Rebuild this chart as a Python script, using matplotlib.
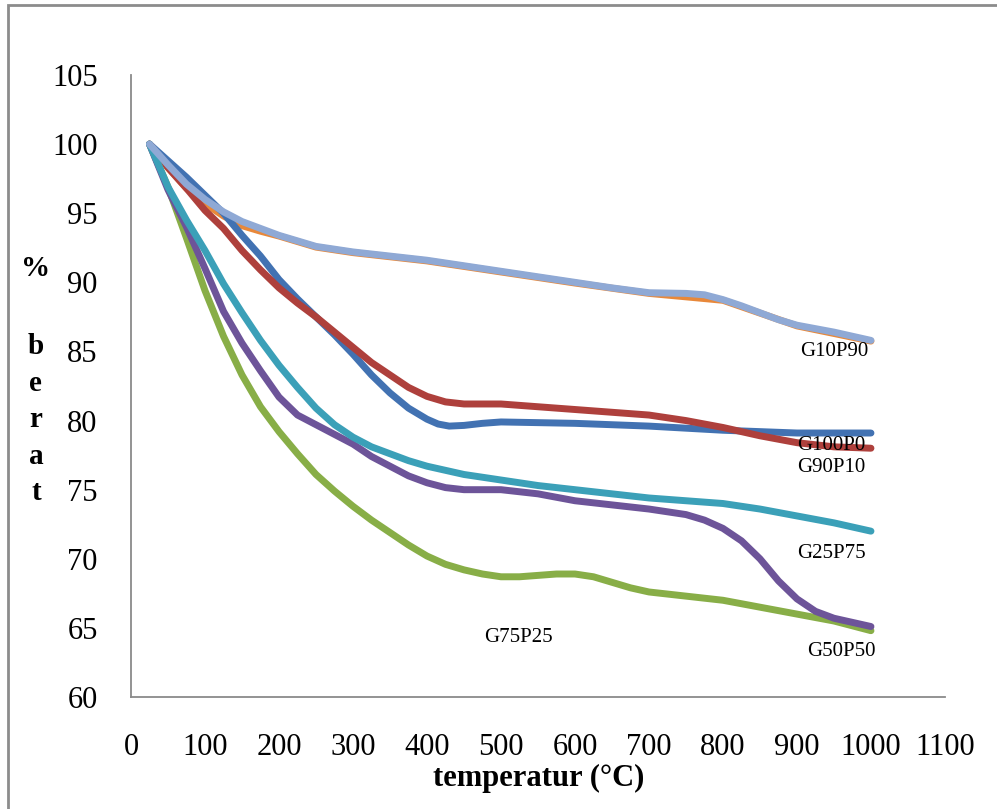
import numpy as np
import matplotlib
matplotlib.use('Agg')
import matplotlib.pyplot as plt
from matplotlib.patches import Rectangle

plt.rcParams['font.family'] = 'Liberation Serif'

# Data (temperature in degC, % weight)
t_g10p90 = [25, 50, 75, 100, 125, 150, 175, 200, 250, 300, 350, 400, 450, 500, 550, 600,
            650, 700, 750, 775, 800, 825, 850, 875, 900, 950, 1000]
w_g10p90 = [100, 98.5, 97.1, 96.0, 95.1, 94.4, 93.9, 93.4, 92.6, 92.2, 91.9, 91.6, 91.2, 90.8,
            90.4, 90.0, 89.6, 89.25, 89.2, 89.1, 88.75, 88.3, 87.8, 87.3, 86.9, 86.4, 85.8]

t_orange = [25, 50, 75, 100, 125, 150, 175, 200, 250, 300, 400, 500, 600, 700, 800, 900, 1000]
w_orange = [100, 98.3, 96.8, 95.7, 94.8, 94.1, 93.7, 93.35, 92.55, 92.15, 91.55, 90.75, 89.95,
            89.2, 88.7, 86.85, 85.75]

t_g100p0 = [25, 50, 75, 100, 125, 150, 175, 200, 225, 250, 275, 300, 325, 350, 375, 400, 415,
            430, 450, 475, 500, 600, 700, 800, 900, 1000]
w_g100p0 = [100, 98.8, 97.6, 96.3, 95.0, 93.4, 91.9, 90.2, 88.8, 87.5, 86.2, 84.8, 83.3, 82.0,
            80.9, 80.1, 79.75, 79.6, 79.65, 79.8, 79.9, 79.8, 79.6, 79.3, 79.1, 79.1]

t_g90p10 = [25, 50, 75, 100, 125, 150, 175, 200, 225, 250, 275, 300, 325, 350, 375, 400, 425,
            450, 500, 550, 600, 650, 700, 750, 800, 850, 900, 950, 1000]
w_g90p10 = [100, 98.3, 96.8, 95.2, 93.9, 92.3, 90.9, 89.6, 88.5, 87.5, 86.4, 85.3, 84.2, 83.3,
            82.4, 81.75, 81.35, 81.2, 81.2, 81.0, 80.8, 80.6, 80.4, 80.0, 79.5, 78.9, 78.4, 78.1, 78.0]

t_g25p75 = [25, 50, 75, 100, 125, 150, 175, 200, 225, 250, 275, 300, 325, 350, 375, 400, 450,
            500, 550, 600, 650, 700, 750, 800, 850, 900, 950, 1000]
w_g25p75 = [100, 96.9, 94.5, 92.3, 89.9, 87.8, 85.8, 84.0, 82.4, 80.9, 79.7, 78.8, 78.1, 77.6,
            77.1, 76.7, 76.1, 75.7, 75.3, 75.0, 74.7, 74.4, 74.2, 74.0, 73.6, 73.1, 72.6, 72.0]

t_g50p50 = [25, 50, 75, 100, 125, 150, 175, 200, 225, 250, 275, 300, 325, 350, 375, 400, 425,
            450, 500, 550, 600, 650, 700, 750, 775, 800, 825, 850, 875, 900, 925, 950, 975, 1000]
w_g50p50 = [100, 96.7, 94.0, 91.0, 87.9, 85.6, 83.6, 81.7, 80.4, 79.7, 79.0, 78.3, 77.4, 76.7,
            76.0, 75.5, 75.15, 75.0, 75.0, 74.7, 74.2, 73.9, 73.6, 73.2, 72.8, 72.2, 71.3, 70.0,
            68.4, 67.1, 66.2, 65.7, 65.4, 65.1]

t_g75p25 = [25, 50, 75, 100, 125, 150, 175, 200, 225, 250, 275, 300, 325, 350, 375, 400, 425,
            450, 475, 500, 525, 550, 575, 600, 625, 650, 675, 700, 750, 800, 850, 900, 950, 1000]
w_g75p25 = [100, 96.9, 93.2, 89.4, 86.1, 83.3, 81.0, 79.2, 77.6, 76.1, 74.9, 73.8, 72.8, 71.9,
            71.0, 70.2, 69.6, 69.2, 68.9, 68.7, 68.7, 68.8, 68.9, 68.9, 68.7, 68.3, 67.9, 67.6,
            67.3, 67.0, 66.5, 66.0, 65.5, 64.8]

labels = ['G10P90', 'G100P0', 'G90P10', 'G25P75', 'G50P50', 'G75P25']
label_pos = [(950, 85.0), (946, 78.2), (946, 76.6), (946, 70.4), (960, 63.3), (524, 64.3)]

x_ticks = list(range(0, 1101, 100))
y_ticks = list(range(60, 106, 5))

fig = plt.figure(figsize=(9.97, 8.09), dpi=100)
ax = fig.add_axes([0.1314, 0.1384, 0.8164, 0.7689])

lw = 5
style = dict(lw=lw, solid_capstyle='round', solid_joinstyle='round')
ax.plot(t_orange, w_orange, color='#E8883A', **style)
ax.plot(t_g100p0, w_g100p0, color='#4272B2', **style)
ax.plot(t_g90p10, w_g90p10, color='#AE403C', **style)
ax.plot(t_g75p25, w_g75p25, color='#88AE47', **style)
ax.plot(t_g50p50, w_g50p50, color='#6D5499', **style)
ax.plot(t_g25p75, w_g25p75, color='#3BA0B8', **style)
ax.plot(t_g10p90, w_g10p90, color='#8FA9D5', **style)

for lab, (x, y) in zip(labels, label_pos):
    ax.text(x, y, lab, fontsize=15, ha='center', va='center')

ax.set_xlim(0, 1100)
ax.set_ylim(60, 105)
ax.set_xticks(x_ticks)
ax.set_yticks(y_ticks)
ax.tick_params(length=0, labelsize=22)
ax.tick_params(axis='x', pad=26)
ax.tick_params(axis='y', pad=24)
for s in ['top', 'right']:
    ax.spines[s].set_visible(False)
for s in ['left', 'bottom']:
    ax.spines[s].set_color('#8a8a8a')
    ax.spines[s].set_linewidth(1.3)

fig.text(0.54, 0.038, 'temperatur (°C)', fontsize=22, fontweight='bold', ha='center', va='center')
fig.text(0.036, 0.668, '%', fontsize=21, fontweight='bold', ha='center', va='center')
fig.text(0.036, 0.481, 'b\ne\nr\na\nt', fontsize=21, fontweight='bold', ha='center', va='center',
         linespacing=1.45)

fig.patches.append(Rectangle((0.008, -0.05), 1.1, 1.0438, transform=fig.transFigure,
                             fill=False, edgecolor='#8c8c8c', lw=2))

fig.savefig('out.png', dpi=100)
